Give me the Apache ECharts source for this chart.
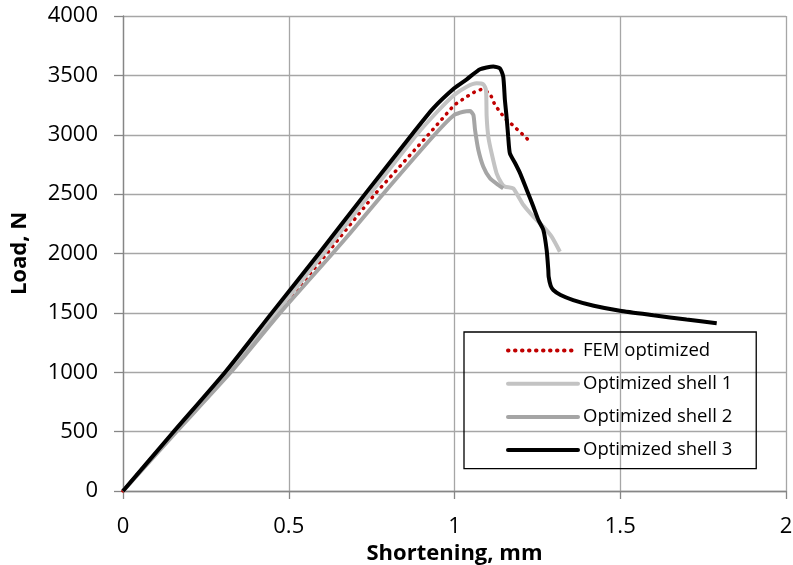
<!DOCTYPE html>
<html>
<head>
<meta charset="utf-8">
<script src="https://cdn.jsdelivr.net/npm/echarts@6/dist/echarts.min.js"></script>
<style>
  html, body { margin: 0; padding: 0; background: #fff; }
  #chart { width: 793px; height: 565px; }
</style>
</head>
<body>
<div id="chart"></div>
<script>
// shortening (mm), load (N)
const femX = [0, 0.155, 0.315, 0.466, 0.615, 0.76, 0.921, 0.999, 1.037, 1.062, 1.082, 1.107, 1.122, 1.137, 1.152, 1.172, 1.191, 1.21, 1.228]
const femY = [0, 500, 1000, 1500, 2000, 2500, 3000, 3250, 3321, 3363, 3383, 3349, 3250, 3194, 3138, 3090, 3040, 2992, 2941]

const shell1X = [0, 0.155, 0.318, 0.462, 0.605, 0.745, 0.886, 0.95, 0.999, 1.037, 1.067, 1.087, 1.095, 1.097, 1.102, 1.112, 1.127, 1.142, 1.152, 1.177, 1.193, 1.208, 1.238, 1.268, 1.293, 1.318]
const shell1Y = [0, 490, 1000, 1500, 2000, 2500, 3000, 3200, 3335, 3405, 3433, 3425, 3377, 3152, 2984, 2844, 2675, 2591, 2563, 2549, 2478, 2408, 2310, 2226, 2142, 2015]

const shell2X = [0, 0.158, 0.325, 0.474, 0.632, 0.685, 0.775, 0.94, 0.999, 1.027, 1.047, 1.057, 1.062, 1.072, 1.087, 1.107, 1.132, 1.147]
const shell2Y = [0, 490, 1000, 1500, 2000, 2170, 2470, 3000, 3166, 3194, 3200, 3166, 3040, 2872, 2731, 2633, 2577, 2549]

const shell3X = [0, 0.15, 0.308, 0.449, 0.591, 0.73, 0.871, 0.935, 0.999, 1.037, 1.077, 1.117, 1.137, 1.147, 1.152, 1.157, 1.162, 1.167, 1.183, 1.198, 1.218, 1.238, 1.253, 1.268, 1.278, 1.283, 1.284, 1.29, 1.298, 1.32, 1.358, 1.42, 1.499, 1.6, 1.7, 1.791]
const shell3Y = [0, 490, 1000, 1500, 2000, 2500, 3000, 3220, 3391, 3467, 3551, 3575, 3559, 3489, 3293, 3152, 2984, 2844, 2760, 2675, 2535, 2394, 2282, 2198, 2029, 1861, 1805, 1730, 1693, 1650, 1608, 1560, 1518, 1480, 1444, 1412]

const seriesNames = ['FEM optimized', 'Optimized shell 1', 'Optimized shell 2', 'Optimized shell 3']

function pairs(xs, ys) {
  return xs.map((x, i) => [x, ys[i]])
}

const font = 'Open Sans'
const chart = echarts.init(document.getElementById('chart'))

chart.setOption({
  animation: false,
  grid: { left: 123, right: 7, top: 16, bottom: 74, outerBoundsMode: 'none', containLabel: false },
  legend: {
    orient: 'vertical',
    left: 464,
    top: 332,
    padding: [9, 24, 9, 42],
    itemWidth: 70,
    itemHeight: 14,
    itemGap: 14.2,
    borderColor: '#000',
    borderWidth: 1.3,
    itemStyle: { opacity: 0 },
    lineStyle: { width: 4, cap: 'round' },
    textStyle: { fontFamily: font, fontSize: 18.5, color: '#000' },
    data: seriesNames,
  },
  xAxis: {
    type: 'value',
    min: 0,
    max: 2,
    interval: 0.5,
    name: 'Shortening, mm',
    nameLocation: 'middle',
    nameGap: 38,
    nameTextStyle: { fontFamily: font, fontSize: 22, fontWeight: 'bold', color: '#000', verticalAlign: 'top' },
    axisLine: { lineStyle: { color: '#868686', width: 1.3 } },
    axisTick: { show: true, length: 8, lineStyle: { color: '#868686', width: 1.3 } },
    axisLabel: { fontFamily: font, fontSize: 22, color: '#000', margin: 25 },
    splitLine: { show: true, lineStyle: { color: '#a6a6a6', width: 1.3 } },
  },
  yAxis: {
    type: 'value',
    min: 0,
    max: 4000,
    interval: 500,
    name: 'Load, N',
    nameLocation: 'middle',
    nameGap: 92,
    nameTextStyle: { fontFamily: font, fontSize: 22, fontWeight: 'bold', color: '#000' },
    axisLine: { show: true, lineStyle: { color: '#868686', width: 1.3 } },
    axisTick: { show: true, length: 9, lineStyle: { color: '#868686', width: 1.3 } },
    axisLabel: { fontFamily: font, fontSize: 22, color: '#000', margin: 25, formatter: (v) => String(v) },
    splitLine: { show: true, lineStyle: { color: '#a6a6a6', width: 1.3 } },
  },
  series: [
    {
      name: seriesNames[0],
      type: 'line',
      data: pairs(femX, femY),
      symbol: 'none',
      lineStyle: { color: '#c00000', width: 3.5, type: [0.5, 6.5], cap: 'round' },
      itemStyle: { color: '#c00000' },
    },
    {
      name: seriesNames[1],
      type: 'line',
      data: pairs(shell1X, shell1Y),
      symbol: 'none',
      smooth: 0.2,
      lineStyle: { color: '#c3c3c3', width: 4 },
      itemStyle: { color: '#c3c3c3' },
    },
    {
      name: seriesNames[2],
      type: 'line',
      data: pairs(shell2X, shell2Y),
      symbol: 'none',
      smooth: 0.2,
      lineStyle: { color: '#a5a5a5', width: 4 },
      itemStyle: { color: '#a5a5a5' },
    },
    {
      name: seriesNames[3],
      type: 'line',
      data: pairs(shell3X, shell3Y),
      symbol: 'none',
      smooth: 0.2,
      lineStyle: { color: '#000', width: 4 },
      itemStyle: { color: '#000' },
    },
  ],
})
</script>
</body>
</html>
